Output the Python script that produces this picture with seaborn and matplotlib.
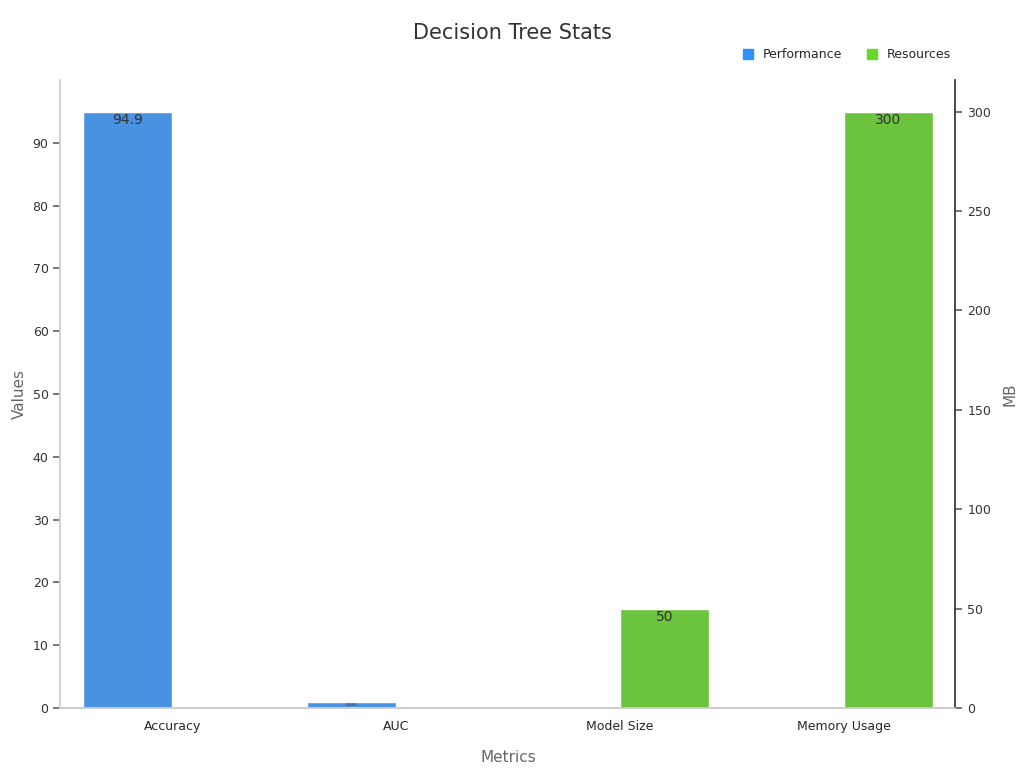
import matplotlib
matplotlib.use("Agg")
import matplotlib.pyplot as plt
import seaborn as sns
import pandas as pd

categories = ["Accuracy", "AUC", "Model Size", "Memory Usage"]
performance = [94.9, 0.965, None, None]
resources = [None, None, 50, 300]
perf_labels = ["94.9", "0.965", "", ""]
res_labels = ["", "", "50", "300"]

sns.set_theme(style="white")
fig = plt.figure(figsize=(10.24, 7.68), dpi=100)
ax = fig.add_axes([0.059, 0.078, 0.874, 0.818])
ax2 = ax.twinx()

df_p = pd.DataFrame({"Metric": categories, "Value": [v if v is not None else 0 for v in performance], "Series": "Performance"})
df_r = pd.DataFrame({"Metric": categories, "Value": [v if v is not None else 0 for v in resources], "Series": "Resources"})
df_p_full = pd.concat([df_p, df_r.assign(Value=0)])
df_r_full = pd.concat([df_p.assign(Value=0), df_r])
pal = {"Performance": "#2f91fb", "Resources": "#64d928"}

sns.barplot(data=df_p_full, x="Metric", y="Value", hue="Series", palette=pal, ax=ax,
            width=0.8, edgecolor="white", linewidth=1, legend=False, hue_order=["Performance", "Resources"])
sns.barplot(data=df_r_full, x="Metric", y="Value", hue="Series", palette=pal, ax=ax2,
            width=0.8, edgecolor="white", linewidth=1, legend=False, hue_order=["Performance", "Resources"])

ax.set_ylim(0, 100)
ax2.set_ylim(0, 316)
ax.set_xlim(-0.5, 3.5)

for bar, lab in zip(ax.patches[:4], perf_labels):
    if lab:
        fs = 10 if bar.get_height() > 5 else 3
        ax.text(bar.get_x() + bar.get_width() / 2, bar.get_height() - (1.3 if fs == 10 else 0.5), lab,
                ha="center", va="center", fontsize=fs, color="#333333")
for bar, lab in zip(ax2.patches[4:8], res_labels):
    if lab:
        ax2.text(bar.get_x() + bar.get_width() / 2, bar.get_height() - 4, lab,
                 ha="center", va="center", fontsize=10, color="#333333")

ax.set_yticks(range(0, 100, 10))
ax2.set_yticks(range(0, 301, 50))
for a in (ax, ax2):
    a.tick_params(axis="y", length=5, color="#666666", labelsize=9, labelcolor="#333333")
    for s in a.spines.values():
        s.set_color("#cccccc")
    a.spines["top"].set_visible(False)
ax.tick_params(axis="x", length=5, labelsize=9, color="#666666")
ax.spines["right"].set_visible(False)
ax2.spines["left"].set_visible(False)
ax2.spines["right"].set_color("#333333")
ax.set_xlabel("Metrics", fontsize=11, color="#666666", labelpad=12)
ax.set_ylabel("Values", fontsize=11, color="#666666")
ax2.set_ylabel("MB", fontsize=11, color="#666666", labelpad=8)
fig.suptitle("Decision Tree Stats", fontsize=15, color="#333333", y=0.97)

from matplotlib.patches import Patch
fig.legend(handles=[Patch(color=pal["Performance"], label="Performance"),
                    Patch(color=pal["Resources"], label="Resources")],
           loc="upper right", bbox_to_anchor=(0.94, 0.952), ncol=2, frameon=False,
           fontsize=9, handlelength=0.8, handleheight=0.8, columnspacing=2)
fig.savefig("out.png", dpi=100)
